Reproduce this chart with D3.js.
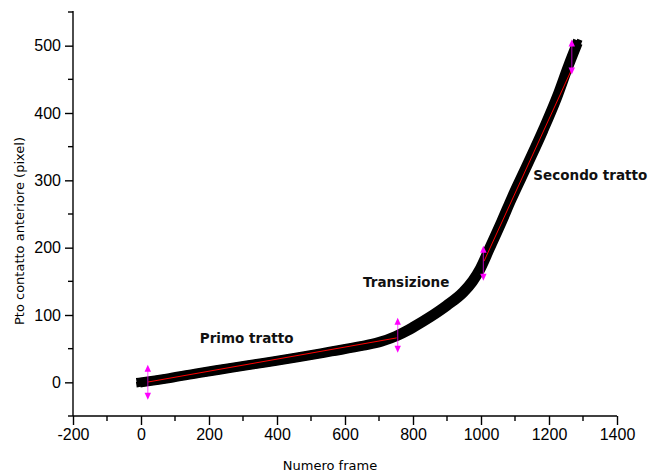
<!DOCTYPE html>
<html><head><meta charset="utf-8">
<script src="https://cdn.jsdelivr.net/npm/d3@7"></script>
<style>body{margin:0;background:#fff}svg{display:block}</style>
</head><body>
<svg id="c" width="655" height="473"></svg>
<script>
// Data
const frames = [0, 80, 164, 260, 360, 460, 556, 650, 703, 752, 780, 801, 850, 899, 948, 975, 997, 1026, 1060, 1090, 1137, 1183, 1223, 1257, 1282];
const values = [0, 6, 13.4, 21, 29, 37, 45.5, 54, 60, 69, 76, 82, 97, 114, 134, 150, 168, 200, 238, 273, 324, 375, 423, 470, 502];
const fit1X = [21, 752], fit1Y = [0.5, 66];
const fit2X = [1009, 1266], fit2Y = [180, 464];
const markX = [20, 755, 1007, 1267];
const markY = [0, 70, 177, 483];
const markHalf = 26;
const xTicks = [-200, 0, 200, 400, 600, 800, 1000, 1200, 1400];
const yTicks = [0, 100, 200, 300, 400, 500];
const labels = ["Primo tratto", "Transizione", "Secondo tratto"];
const labelX = [173, 653, 1154];
const labelY = [59, 141.5, 300.7];

const svg = d3.select("#c");
const x = d3.scaleLinear().domain([-200, 1400]).range([73, 617]);
const y = d3.scaleLinear().domain([-50, 550]).range([416, 12]);

// curve (square markers approximated by rounded-square brush)
const line = d3.line().x(d => x(d[0])).y(d => y(d[1])).curve(d3.curveMonotoneX);
const pts = frames.map((f, i) => [f, values[i]]);
const offs = [[-2, -2], [2, -2], [-2, 2], [2, 2], [0, 0]];
const cg = svg.append("g");
offs.forEach(o => {
  cg.append("path").attr("d", line(pts)).attr("transform", `translate(${o[0]},${o[1]})`)
    .attr("fill", "none").attr("stroke", "#000").attr("stroke-width", 5.4)
    .attr("stroke-linecap", "square").attr("stroke-linejoin", "round");
});

// fitted red lines
[[fit1X, fit1Y], [fit2X, fit2Y]].forEach(([fx, fy]) => {
  svg.append("line").attr("x1", x(fx[0])).attr("y1", y(fy[0])).attr("x2", x(fx[1])).attr("y2", y(fy[1]))
    .attr("stroke", "#ff0000").attr("stroke-width", 1);
});

// magenta double arrows
markX.forEach((mx, i) => {
  const px = x(mx), top = y(markY[i] + markHalf), bot = y(markY[i] - markHalf);
  svg.append("line").attr("x1", px).attr("x2", px).attr("y1", top + 3).attr("y2", bot - 3)
    .attr("stroke", "#ff00ff").attr("stroke-opacity", 0.6).attr("stroke-width", 1.2);
  svg.append("path").attr("d", `M${px},${top} L${px - 3.2},${top + 7} L${px + 3.2},${top + 7} Z`).attr("fill", "#ff00ff");
  svg.append("path").attr("d", `M${px},${bot} L${px - 3.2},${bot - 7} L${px + 3.2},${bot - 7} Z`).attr("fill", "#ff00ff");
});

// axes
const fmt = d => String(d);
const xAxis = d3.axisBottom(x).tickValues(xTicks).tickSize(9).tickPadding(4).tickFormat(fmt);
const gx = svg.append("g").attr("transform", "translate(0,416)").call(xAxis);
gx.select(".domain").attr("d", `M${x(-200)},0H${x(1400)}`).attr("stroke-width", 1.4);
gx.selectAll(".tick line").attr("stroke-width", 1.4);
gx.selectAll("text").attr("font-family", "Liberation Sans, Arial, sans-serif").attr("font-size", 16).attr("fill", "#000");
const xMinor = d3.range(-100, 1400, 200);
svg.append("g").selectAll("line").data(xMinor).join("line")
  .attr("x1", d => x(d)).attr("x2", d => x(d)).attr("y1", 416).attr("y2", 421)
  .attr("stroke", "#000").attr("stroke-width", 1.4);

const yAxis = d3.axisLeft(y).tickValues(yTicks).tickSize(8).tickPadding(4).tickFormat(fmt);
const gy = svg.append("g").attr("transform", "translate(73,0)").call(yAxis);
gy.select(".domain").attr("d", `M0,${y(550) - 1}V${y(-50)}`).attr("stroke-width", 1.4);
gy.selectAll(".tick line").attr("stroke-width", 1.4);
gy.selectAll("text").attr("font-family", "Liberation Sans, Arial, sans-serif").attr("font-size", 16).attr("fill", "#000");
const yMinor = d3.range(-50, 551, 100);
svg.append("g").selectAll("line").data(yMinor).join("line")
  .attr("x1", 68).attr("x2", 73).attr("y1", d => y(d)).attr("y2", d => y(d))
  .attr("stroke", "#000").attr("stroke-width", 1.4);

// axis titles
svg.append("text").attr("x", 330).attr("y", 470).attr("text-anchor", "middle")
  .attr("font-family", "DejaVu Sans, sans-serif").attr("font-size", 13).text("Numero frame");
svg.append("text").attr("transform", "translate(24,231) rotate(-90)").attr("text-anchor", "middle")
  .attr("font-family", "DejaVu Sans, sans-serif").attr("font-size", 13).text("Pto contatto anteriore (pixel)");

// annotations
labels.forEach((t, i) => {
  svg.append("text").attr("x", x(labelX[i])).attr("y", y(labelY[i]))
    .attr("font-family", "DejaVu Sans, sans-serif").attr("font-weight", "bold").attr("font-size", 13.5)
    .attr("fill", "#111").text(t);
});
</script>
</body></html>
